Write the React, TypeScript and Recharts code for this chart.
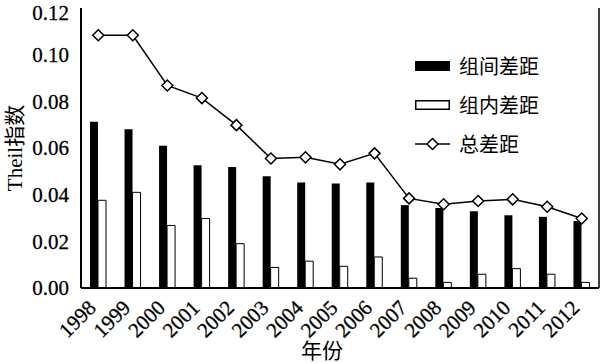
import React from "react";
import {
  Bar,
  ComposedChart,
  Line,
  XAxis,
  YAxis,
} from "recharts";

const years = [
  "1998", "1999", "2000", "2001", "2002", "2003", "2004", "2005",
  "2006", "2007", "2008", "2009", "2010", "2011", "2012",
];
const between = [
  0.0712, 0.068, 0.061, 0.0526, 0.0519, 0.0479, 0.0452, 0.0448,
  0.0452, 0.0355, 0.0343, 0.0329, 0.0312, 0.0305, 0.0287,
];
const within = [
  0.0376, 0.041, 0.0268, 0.0298, 0.019, 0.0088, 0.0115, 0.0093,
  0.0133, 0.0042, 0.0024, 0.0059, 0.0083, 0.0059, 0.0024,
];
const total = [
  0.1083, 0.1083, 0.0868, 0.0814, 0.0698, 0.0555, 0.056, 0.053,
  0.0577, 0.0384, 0.0359, 0.0373, 0.038, 0.0348, 0.0298,
];
const yTicks = [0, 0.02, 0.04, 0.06, 0.08, 0.1, 0.12];

const data = years.map((year, i) => ({
  year,
  between: between[i],
  within: within[i],
  total: total[i],
}));

const SERIF = '"Liberation Serif", "Noto Sans CJK SC", serif';
const CJK = '"Noto Sans CJK SC", sans-serif';

const Diamond = ({ cx, cy }: { cx?: number; cy?: number }) => {
  if (cx == null || cy == null) return null;
  const r = 5.5;
  return (
    <polygon
      points={`${cx},${cy - r} ${cx + r},${cy} ${cx},${cy + r} ${cx - r},${cy}`}
      fill="#fff"
      stroke="#000"
      strokeWidth={1.5}
    />
  );
};

// rotated year labels, end of the baseline sits just right of the bar pair
const YearTick = ({ x, y, payload }: any) => {
  const ax = x - 1;
  const ay = y + 13;
  return (
    <text
      x={ax}
      y={ay}
      transform={`rotate(-45, ${ax}, ${ay})`}
      textAnchor="end"
      fontFamily={SERIF}
      fontSize={21}
      fill="#000"
      stroke="#000"
      strokeWidth={0.3}
    >
      {payload.value}
    </text>
  );
};

const legendItems = [
  { key: "between", label: "组间差距" },
  { key: "within", label: "组内差距" },
  { key: "total", label: "总差距" },
];

// legend drawn over the plot, top right, like the original figure
const LegendBox = () => (
  <div
    style={{
      position: "absolute",
      left: 415,
      top: 46,
      fontFamily: CJK,
      fontSize: 20,
      color: "#000",
    }}
  >
    {legendItems.map((it) => (
      <div
        key={it.key}
        style={{ display: "flex", alignItems: "center", height: 39 }}
      >
        <svg width={36} height={14} style={{ marginRight: 8 }}>
          {it.key === "between" && (
            <rect x={0} y={2} width={35} height={10} fill="#000" />
          )}
          {it.key === "within" && (
            <rect x={0.75} y={2.75} width={33.5} height={8.5} fill="#fff" stroke="#000" strokeWidth={1.5} />
          )}
          {it.key === "total" && (
            <>
              <line x1={0} y1={7} x2={35} y2={7} stroke="#000" strokeWidth={1.5} />
              <Diamond cx={17.5} cy={7} />
            </>
          )}
        </svg>
        <span>{it.label}</span>
      </div>
    ))}
  </div>
);

const App = () => (
  <div style={{ position: "absolute", left: 0, top: 0, width: 600, height: 363, background: "#fff" }}>
    <ComposedChart
      width={600}
      height={363}
      data={data}
      margin={{ top: 8, right: 0, bottom: 0, left: 0 }}
      barSize={8}
      barGap={0}
    >
      <XAxis
        dataKey="year"
        height={75}
        tickLine={false}
        axisLine={{ stroke: "#000", strokeWidth: 2 }}
        tick={<YearTick />}
        interval={0}
        label={{
          content: ({ viewBox }: any) => (
            <text
              x={viewBox.x + viewBox.width / 2 - 18}
              y={viewBox.y + 70}
              textAnchor="middle"
              fontFamily={CJK}
              fontSize={21}
              fill="#000"
            >
              年份
            </text>
          ),
        }}
      />
      <XAxis
        xAxisId="top"
        dataKey="year"
        orientation="top"
        height={0}
        tick={false}
        tickLine={false}
        axisLine={{ stroke: "#000", strokeWidth: 1.5 }}
      />
      <YAxis
        width={81}
        domain={[0, 0.12]}
        ticks={yTicks}
        tickLine={false}
        axisLine={{ stroke: "#000", strokeWidth: 2 }}
        tickFormatter={(v: number) => v.toFixed(2)}
        tick={{ fill: "#000", stroke: "#000", strokeWidth: 0.3, fontFamily: SERIF, fontSize: 21 }}
        tickMargin={6}
        label={{
          content: ({ viewBox }: any) => {
            const cy = viewBox.y + viewBox.height / 2;
            return (
              <text
                x={15}
                y={cy}
                transform={`rotate(-90, 15, ${cy})`}
                textAnchor="middle"
                dominantBaseline="central"
                fontFamily={SERIF}
                fontSize={21}
                fill="#000"
              >
                Theil指数
              </text>
            );
          },
        }}
      />
      <YAxis
        yAxisId="right"
        orientation="right"
        width={1}
        tick={false}
        tickLine={false}
        axisLine={{ stroke: "#000", strokeWidth: 1.5 }}
      />
      <Bar dataKey="between" fill="#000" isAnimationActive={false} />
      <Bar
        dataKey="within"
        fill="#fff"
        stroke="#000"
        strokeWidth={1}
        isAnimationActive={false}
      />
      <Line
        dataKey="total"
        stroke="#000"
        strokeWidth={1.5}
        dot={<Diamond />}
        activeDot={false}
        isAnimationActive={false}
      />
    </ComposedChart>
    <LegendBox />
  </div>
);

export default App;
